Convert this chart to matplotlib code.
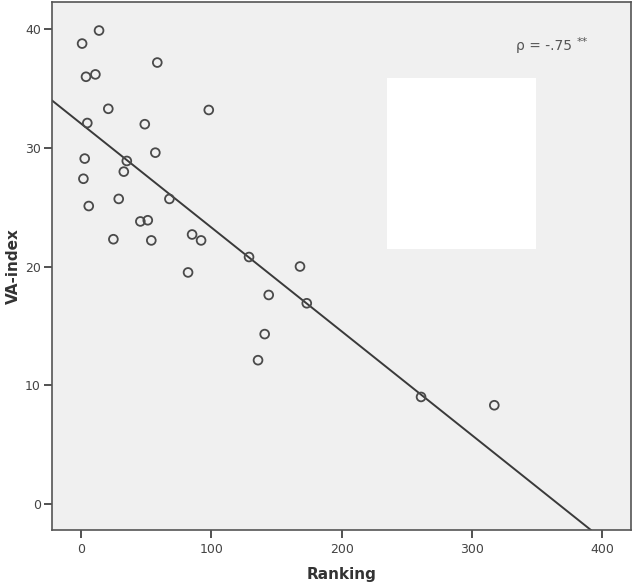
import matplotlib
matplotlib.use("Agg")
import matplotlib.pyplot as plt
from matplotlib.patches import Rectangle

ranking = [0.8, 13.8, 3.8, 11.0, 58.5, 20.9, 98.0, 4.8, 48.9, 57.0, 2.8, 35.1,
           32.8, 1.8, 28.9, 67.8, 5.9, 45.5, 51.2, 24.8, 53.9, 85.2, 92.1,
           128.9, 168.0, 82.1, 144.0, 173.2, 140.9, 135.8, 260.9, 317.1]
va_index = [38.8, 39.9, 36.0, 36.2, 37.2, 33.3, 33.2, 32.1, 32.0, 29.6, 29.1, 28.9,
            28.0, 27.4, 25.7, 25.7, 25.1, 23.8, 23.9, 22.3, 22.2, 22.7, 22.2,
            20.8, 20.0, 19.5, 17.6, 16.9, 14.3, 12.1, 9.0, 8.3]

fit_intercept = 32.05
fit_slope = -0.0876

x_ticks = [0, 100, 200, 300, 400]
y_ticks = [0, 10, 20, 30, 40]
annotation = "ρ = -.75"
annotation_sup = "**"

fig = plt.figure(figsize=(6.34, 5.87), dpi=100)
ax = fig.add_axes([52/634, 57/587, (631-52)/634, (530-2.3)/587])
ax.set_facecolor("#f0f0f0")

ax.set_xlim(-22.3, 422)
ax.set_ylim(-2.22, 42.28)

# white box (covered legend area)
ax.add_patch(Rectangle((234.5, 21.5), 114.5, 14.4, facecolor="white",
                       edgecolor="none", zorder=1))

ax.axline((0, fit_intercept), slope=fit_slope, color="#3a3a3a", lw=1.4, zorder=2)
ax.scatter(ranking, va_index, s=40, facecolors="none", edgecolors="#4a4a4a",
           linewidths=1.3, zorder=3)

ax.set_xticks(x_ticks)
ax.set_yticks(y_ticks)
ax.tick_params(direction="out", length=6, width=1.2, color="#333333",
               labelcolor="#444444", labelsize=9)
ax.tick_params(axis="y", pad=2)
for sp in ax.spines.values():
    sp.set_color("#555555")
    sp.set_linewidth(1.2)

ax.set_xlabel("Ranking", fontsize=11, fontweight="bold", color="#333333", labelpad=8)
ax.set_ylabel("VA-index", fontsize=11, fontweight="bold", color="#333333", labelpad=3)

ax.text(334, 38.6, annotation, fontsize=10, color="#555555", va="center", ha="left")
ax.text(380, 38.9, annotation_sup, fontsize=8, color="#555555", va="center", ha="left")

fig.savefig("out.png", dpi=100, facecolor="white")
